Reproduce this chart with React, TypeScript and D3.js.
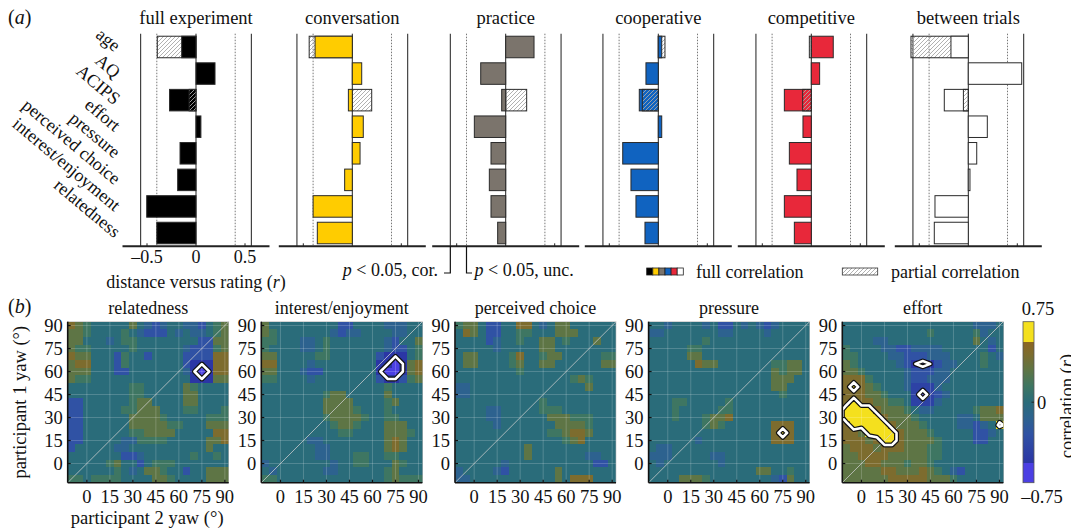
import React from 'react';
import * as d3 from 'd3';

// ---- panel (a) data ----
const measures = ['age', 'AQ', 'ACIPS', 'effort', 'pressure', 'perceived choice', 'interest/enjoyment', 'relatedness'];
const conditions = ['full experiment', 'conversation', 'practice', 'cooperative', 'competitive', 'between trials'];
const conditionColors = ['#000000', '#ffcc00', '#7b746c', '#1063c0', '#e8283a', '#ffffff'];

const fullExperimentR = [-0.146, 0.194, -0.27, 0.05, -0.163, -0.187, -0.503, -0.4];
const conversationR = [-0.38, 0.096, -0.04, 0.112, 0.079, -0.078, -0.4, -0.357];
const practiceR = [0.289, -0.255, -0.041, -0.32, -0.15, -0.167, -0.15, -0.082];
const cooperativeR = [0.035, -0.126, -0.194, 0.035, -0.363, -0.279, -0.228, -0.136];
const competitiveR = [0.224, 0.085, -0.275, -0.085, -0.224, -0.146, -0.275, -0.173];
const betweenTrialsR = [-0.177, 0.545, -0.245, 0.194, 0.086, 0.017, -0.34, -0.347];
const fullR = [fullExperimentR, conversationR, practiceR, cooperativeR, competitiveR, betweenTrialsR];

// partial correlations (age and ACIPS rows only)
const partialAgeR = [-0.395, -0.44, null, 0.068, -0.02, -0.585];
const partialAcipsR = [-0.07, 0.198, 0.214, -0.163, -0.088, -0.05];

const barTicks = [-0.5, 0, 0.5];
const corThreshold = 0.565;
const uncThreshold = 0.4;

// ---- panel (b) data ----
// one character per 5 deg cell, rows from 90 (top) down to -10, columns -10 .. 90
const levelValue: Record<string, number> = {
  B: -0.72, b: -0.56, '1': -0.45, '2': -0.3, '3': -0.15, '4': 0,
  '5': 0.15, '6': 0.3, '7': 0.45, y: 0.55, Y: 0.72,
};

const relatednessMap = [
  '765444446432344332456',
  '665444454322243433456',
  '664443455444444442266',
  '655444445444444322256',
  '766444254424444222277',
  '6774442544444442bbb77',
  '6664442244444443bBb77',
  '6554444444444444bbb66',
  '444444445544444654444',
  '444444445544444664444',
  '224444445664444664444',
  '224444455666444554445',
  '224444446666544444555',
  '224444446666655444666',
  '224444445566664444477',
  '224444433555544444667',
  '244444334444444444644',
  '444444422344444454454',
  '444445644245554444444',
  '444444543466544244666',
  '554555544446654444666',
];

const interestMap = [
  '644444444422444433344',
  '654444444323344443344',
  '554443345444444432446',
  '544443345444444432245',
  '6644444554444442bbb45',
  '774444344444444bbBb67',
  '664443224444444bBBb67',
  '5544443444444442bb256',
  '444444444444444454444',
  '444444445664444464444',
  '444444446666444456444',
  '444444446666544454444',
  '444444445666654455444',
  '444444444566544466644',
  '444444444455444466654',
  '444444334444444467644',
  '444444433444444467644',
  '444444433444554455444',
  '344444444344554446544',
  '434444443344444456444',
  '554444444444444456555',
];

const perceivedChoiceMap = [
  '566422447743466444444',
  '476422445544466644444',
  '444423445446645444644',
  '444443444446644444444',
  '466444457445664444455',
  '466444456446644444466',
  '444444445444444444444',
  '444444444444444565444',
  '334444444444444446444',
  '334444444444444444444',
  '444444444445444444444',
  '444433444445554444444',
  '444433444444666555444',
  '444443444444466665444',
  '444444444444556776444',
  '444444444444445674444',
  '444444444644444444444',
  '444444444644444443344',
  '444444344444444444224',
  '344443244444464444444',
  '334444444444464777444',
];

const pressureMap = [
  '443444434224343234444',
  '334444444334444344444',
  '444444454444444444444',
  '444445544444444444444',
  '444446644444444444444',
  '444444766444444455664',
  '444444444444444465664',
  '444444444444444466644',
  '444444444444444466444',
  '444444444444444445444',
  '444554444454444444444',
  '444544444554444444444',
  '444544456674444444444',
  '444444456544444477744',
  '44444444444444447Y744',
  '444444344444444477744',
  '433444444444444444444',
  '333444443344444444444',
  '434444444344444444444',
  '444444444444446644544',
  '444466654444444432644',
];

const effortMap = [
  '444444444444444443334',
  '444444444445444445344',
  '444433444444444446434',
  '544443322333344444424',
  '554444332223334444543',
  '654444432bBb233444544',
  '665444443222334444444',
  '777544443223334444444',
  '7Y7654443111344444444',
  '7776654441B1234444444',
  '7Y7766554111344444444',
  'YYYY76665433444445667',
  'YYYYY7666544444334666',
  '7YYYYY76665444433234Y',
  '776YYYY76665444442234',
  '77767YY76666544442244',
  '677767776665544444444',
  '667777666665544444444',
  '666776665665444444444',
  '666667766676543244444',
  '666666777776665444444',
];

const heatmapTitles = ['relatedness', 'interest/enjoyment', 'perceived choice', 'pressure', 'effort'];
const heatmapRows = [relatednessMap, interestMap, perceivedChoiceMap, pressureMap, effortMap];
const yawTicks = [0, 15, 30, 45, 60, 75, 90];
const colorbarTicks = [0.75, 0, -0.75];

// ---- layout ----
const W = 1071;
const H = 529;
const FONT = '"Liberation Serif", "Times New Roman", serif';
const panelZero = [196, 352.3, 505.7, 658.3, 811.3, 968.3];
const halfWidth = 73.5;
const barTop = 33.7;
const axisY = 246.3;
const heatLeft = [67.7, 261.3, 455, 648.6, 842.3];
const heatTop = 321.7;
const heatSize = 161;
const nCells = 21;

const heatColor = d3.scaleLinear<string>()
  .domain([-0.565, -0.3, -0.15, 0, 0.15, 0.3, 0.45, 0.565])
  .range(['#2b35a5', '#3052a4', '#2d628f', '#2a6c7a', '#3e7662', '#5e7545', '#7d6c2e', '#8c6522'])
  .clamp(true);
const sigPos = '#f4e01e';
const sigNeg = '#4b3fe3';
const cellColor = (v: number) => (v >= corThreshold ? sigPos : v <= -corThreshold ? sigNeg : heatColor(v));

const yBand = d3.scaleBand<string>()
  .domain(measures)
  .range([barTop, axisY])
  .paddingInner(0.19)
  .paddingOuter(0.095);

function BarPanel({ ci }: { ci: number }) {
  const z = panelZero[ci];
  const x = d3.scaleLinear().domain([-0.75, 0.75]).range([z - halfWidth, z + halfWidth]);
  const color = conditionColors[ci];
  return (
    <g>
      <text x={z} y={23.5} textAnchor="middle" fontSize={18.5}>{conditions[ci]}</text>
      {[-corThreshold, corThreshold].map((t) => (
        <line key={'c' + t} x1={x(t)} x2={x(t)} y1={barTop} y2={axisY} stroke="#333" strokeWidth={1.1} />
      ))}
      {[-uncThreshold, uncThreshold].map((t) => (
        <line key={'u' + t} x1={x(t)} x2={x(t)} y1={barTop} y2={axisY} stroke="#555" strokeWidth={0.8} strokeDasharray="1.5 1.5" />
      ))}
      <line x1={x(0)} x2={x(0)} y1={barTop} y2={axisY} stroke="#222" strokeWidth={1} />
      {measures.map((m, i) => {
        const items: { v: number; partial: boolean }[] = [{ v: fullR[ci][i], partial: false }];
        const p = i === 0 ? partialAgeR[ci] : i === 2 ? partialAcipsR[ci] : null;
        if (p !== null && p !== undefined) items.push({ v: p, partial: true });
        // the larger bar goes underneath
        items.sort((a, b) => Math.abs(b.v) - Math.abs(a.v));
        return items.map((d, k) => (
          <rect
            key={m + k}
            x={Math.min(x(0), x(d.v))}
            y={yBand(m)}
            width={Math.abs(x(d.v) - x(0))}
            height={yBand.bandwidth()}
            fill={d.partial ? 'url(#hatch)' : color}
            stroke="#2a2a2a"
            strokeWidth={1}
          />
        ));
      })}
      <line x1={x(-0.75)} x2={x(0.75)} y1={axisY} y2={axisY} stroke="#222" strokeWidth={2} />
      {barTicks.filter((t) => t !== 0).map((t) => (
        <line key={t} x1={x(t)} x2={x(t)} y1={axisY} y2={axisY - 3} stroke="#222" strokeWidth={1} />
      ))}
      {ci === 0 && barTicks.map((t) => (
        <text key={'l' + t} x={x(t)} y={263} textAnchor="middle" fontSize={18}>
          {t === 0 ? '0' : t < 0 ? '\u20130.5' : '0.5'}
        </text>
      ))}
      {ci === 0 && measures.map((m) => (
        <text
          key={'m' + m}
          transform={`translate(${114},${(yBand(m) as number) + yBand.bandwidth() / 2 + 5.5}) rotate(40)`}
          textAnchor="end"
          fontSize={18}
        >
          {m}
        </text>
      ))}
    </g>
  );
}

function Heatmap({ hi }: { hi: number }) {
  const x0 = heatLeft[hi];
  const cs = heatSize / nCells;
  const values = heatmapRows[hi].flatMap((row) => row.split('').map((ch) => levelValue[ch]));
  const xs = d3.scaleLinear().domain([-12.5, 92.5]).range([x0, x0 + heatSize]);
  const ys = d3.scaleLinear().domain([-12.5, 92.5]).range([heatTop + heatSize, heatTop]);
  const contourGen = d3.contours().size([nCells, nCells]).thresholds([corThreshold]);
  const pos = contourGen(values)[0];
  const neg = contourGen(values.map((v) => -v))[0];
  const path = d3.geoPath(d3.geoIdentity().scale(cs).translate([x0, heatTop]) as any);
  const clipId = 'clip' + hi;
  return (
    <g>
      <clipPath id={clipId}>
        <rect x={x0} y={heatTop} width={heatSize} height={heatSize} />
      </clipPath>
      <text x={x0 + heatSize / 2} y={313.5} textAnchor="middle" fontSize={18}>{heatmapTitles[hi]}</text>
      <g shapeRendering="crispEdges">
        {values.map((v, k) => {
          const c = k % nCells;
          const r = Math.floor(k / nCells);
          return (
            <rect key={k} x={x0 + c * cs} y={heatTop + r * cs} width={cs + 0.4} height={cs + 0.4} fill={cellColor(v)} />
          );
        })}
      </g>
      {yawTicks.map((t) => (
        <g key={'g' + t} stroke="#ffffff" strokeOpacity={0.22} strokeWidth={0.9}>
          <line x1={xs(t)} x2={xs(t)} y1={heatTop} y2={heatTop + heatSize} />
          <line x1={x0} x2={x0 + heatSize} y1={ys(t)} y2={ys(t)} />
        </g>
      ))}
      <line x1={x0} y1={heatTop + heatSize} x2={x0 + heatSize} y2={heatTop} stroke="#d0d0d0" strokeOpacity={0.75} strokeWidth={1} />
      <g clipPath={`url(#${clipId})`} fill="none" strokeLinejoin="round">
        {[pos, neg].map((c, k) => (
          <g key={k}>
            <path d={path(c as any) || ''} stroke="#111" strokeWidth={5} />
            <path d={path(c as any) || ''} stroke="#ffffff" strokeWidth={2.6} />
          </g>
        ))}
      </g>
      <rect x={x0} y={heatTop} width={heatSize} height={heatSize} fill="none" stroke="#bbb" strokeWidth={0.6} />
      <line x1={x0} x2={x0} y1={heatTop} y2={heatTop + heatSize} stroke="#111" strokeWidth={1.6} />
      <line x1={x0} x2={x0 + heatSize} y1={heatTop + heatSize} y2={heatTop + heatSize} stroke="#111" strokeWidth={1.6} />
      {yawTicks.map((t) => (
        <g key={'t' + t}>
          <line x1={x0} x2={x0 + 3} y1={ys(t)} y2={ys(t)} stroke="#111" strokeWidth={1.2} />
          <line x1={xs(t)} x2={xs(t)} y1={heatTop + heatSize} y2={heatTop + heatSize - 3} stroke="#111" strokeWidth={1.2} />
          <text x={x0 - 5} y={ys(t) + 6} textAnchor="end" fontSize={18.5}>{t}</text>
          <text x={xs(t)} y={503} textAnchor="middle" fontSize={18.5}>{t}</text>
        </g>
      ))}
    </g>
  );
}

export default function App() {
  const cbX = 1023;
  const cbW = 11;
  const cbScale = d3.scaleLinear().domain([-0.75, 0.75]).range([heatTop + heatSize, heatTop]);
  const cut = (0.75 - corThreshold) / 1.5;
  const gradValues = [0.565, 0.45, 0.3, 0.15, 0, -0.15, -0.3, -0.565];
  const legendStripX = 646.7;
  const stripW = 36.6 / conditionColors.length;
  return (
    <svg
      width={W}
      height={H}
      style={{ position: 'absolute', left: 0, top: 0, background: '#fff' }}
      fontFamily={FONT}
      fill="#111"
    >
      <defs>
        <pattern id="hatch" patternUnits="userSpaceOnUse" width={4} height={4}>
          <path d="M-1,1 l2,-2 M0,4 l4,-4 M3,5 l2,-2" stroke="#a8a8a8" strokeWidth={0.9} />
        </pattern>
        <linearGradient id="cbar" x1="0" y1="0" x2="0" y2="1">
          <stop offset={0} stopColor={sigPos} />
          <stop offset={cut} stopColor={sigPos} />
          {gradValues.map((v) => (
            <stop key={v} offset={(0.75 - v) / 1.5} stopColor={heatColor(v)} />
          ))}
          <stop offset={1 - cut} stopColor={sigNeg} />
          <stop offset={1} stopColor={sigNeg} />
        </linearGradient>
      </defs>

      {/* panel (a) */}
      <text x={8} y={24} fontSize={20}>(<tspan fontStyle="italic">a</tspan>)</text>
      {conditions.map((c, ci) => <BarPanel key={c} ci={ci} />)}
      <text x={196} y={288} textAnchor="middle" fontSize={18}>
        distance versus rating (<tspan fontStyle="italic">r</tspan>)
      </text>

      {/* significance brackets */}
      <g stroke="#111" strokeWidth={1.2} fill="none">
        <polyline points={`${panelZero[2] - corThreshold * 98},${axisY} ${panelZero[2] - corThreshold * 98},273 444,273`} />
        <polyline points={`${panelZero[2] - uncThreshold * 98},${axisY} ${panelZero[2] - uncThreshold * 98},273 472,273`} />
      </g>
      <text x={438} y={276} textAnchor="end" fontSize={18}>
        <tspan fontStyle="italic">p</tspan> &lt; 0.05, cor.
      </text>
      <text x={474.5} y={276} fontSize={18}>
        <tspan fontStyle="italic">p</tspan> &lt; 0.05, unc.
      </text>

      {/* legend */}
      {conditionColors.map((c, k) => (
        <rect key={c} x={legendStripX + k * stripW} y={268} width={stripW} height={7} fill={c} stroke="#222" strokeWidth={0.8} />
      ))}
      <text x={696} y={278} fontSize={18}>full correlation</text>
      <rect x={842.3} y={268} width={35.4} height={7} fill="url(#hatch)" stroke="#333" strokeWidth={0.8} />
      <text x={891} y={278} fontSize={18}>partial correlation</text>

      {/* panel (b) */}
      <text x={8} y={313} fontSize={20}>(<tspan fontStyle="italic">b</tspan>)</text>
      {heatmapTitles.map((t, hi) => <Heatmap key={t} hi={hi} />)}
      <text transform={`translate(26,${heatTop + heatSize / 2}) rotate(-90)`} textAnchor="middle" fontSize={18.5}>
        participant 1 yaw (°)
      </text>
      <text x={heatLeft[0] + heatSize / 2 - 1} y={524} textAnchor="middle" fontSize={18.5}>
        participant 2 yaw (°)
      </text>

      {/* colour bar */}
      <rect x={cbX} y={heatTop} width={cbW} height={heatSize} fill="url(#cbar)" stroke="#555" strokeWidth={0.8} />
      <line x1={cbX + cbW} x2={cbX + cbW - 2.5} y1={cbScale(0)} y2={cbScale(0)} stroke="#222" strokeWidth={1} />
      {colorbarTicks.map((t) => (
        <text
          key={t}
          x={t === 0 ? cbX + 14 : t > 0 ? 1038 : 1042}
          y={t > 0 ? 315 : t === 0 ? 409 : 503}
          textAnchor={t === 0 ? 'start' : 'middle'}
          fontSize={18.5}
        >
          {t === 0 ? '0' : t > 0 ? '0.75' : '\u20130.75'}
        </text>
      ))}
      <text transform={`translate(1073,406) rotate(-90)`} textAnchor="middle" fontSize={18.5}>
        correlation (<tspan fontStyle="italic">r</tspan>)
      </text>
    </svg>
  );
}
